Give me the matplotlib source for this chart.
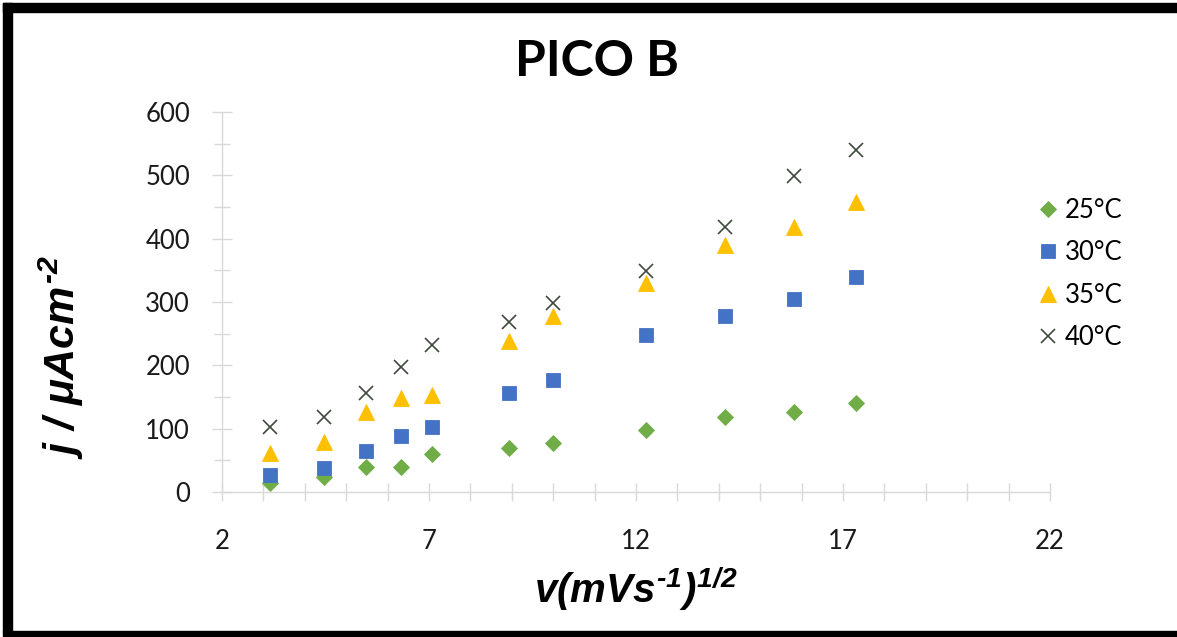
import matplotlib
matplotlib.use("Agg")
import matplotlib.pyplot as plt
from matplotlib.patches import Rectangle
from matplotlib.ticker import MultipleLocator

# datos: raiz de la velocidad de barrido vs densidad de corriente
x_raiz_v = [3.16, 4.47, 5.48, 6.32, 7.07, 8.94, 10.0, 12.25, 14.14, 15.81, 17.32]
j_25 = [14, 24, 40, 40, 60, 69, 78, 98, 119, 127, 141]
j_30 = [27, 38, 65, 88, 102, 157, 177, 248, 278, 304, 339]
j_35 = [61, 79, 127, 148, 153, 239, 278, 330, 390, 419, 458]
j_40 = [103, 119, 157, 197, 232, 269, 299, 349, 419, 499, 540]
etiquetas = ["25°C", "30°C", "35°C", "40°C"]
x_ticks = [2, 7, 12, 17, 22]
y_ticks = [0, 100, 200, 300, 400, 500, 600]

plt.rcParams["mathtext.fontset"] = "custom"
plt.rcParams["mathtext.rm"] = "Liberation Sans:bold:italic"
plt.rcParams["mathtext.it"] = "Liberation Sans:bold:italic"
plt.rcParams["mathtext.bf"] = "Liberation Sans:bold:italic"

W, H = 1177, 637
fig = plt.figure(figsize=(W / 100, H / 100), dpi=100)
fig.patch.set_facecolor("white")
ax = fig.add_axes([222 / W, 145 / H, 828 / W, 380 / H])

gris = "#D9D9D9"
series = [
    (j_25, "D", "#70AD47", 8.5, 0.6),
    (j_30, "s", "#4472C4", 10.5, 0.6),
    (j_35, "^", "#FFC000", 11.5, 0.6),
    (j_40, "x", "#3E4A3E", 10, 1.2),
]
for (valores, marcador, color, tam, ancho), etiqueta in zip(series, etiquetas):
    ax.plot(x_raiz_v, valores, linestyle="none", marker=marcador, color=color,
            markersize=tam, markeredgewidth=ancho, markeredgecolor=color,
            label=etiqueta, clip_on=False)

ax.set_xlim(2, 22)
ax.set_ylim(0, 600)
ax.set_xticks(x_ticks)
ax.set_yticks(y_ticks)
ax.xaxis.set_minor_locator(MultipleLocator(1))
ax.yaxis.set_minor_locator(MultipleLocator(50))
ax.spines[["top", "right"]].set_visible(False)
for s in ["left", "bottom"]:
    ax.spines[s].set_color(gris)
    ax.spines[s].set_linewidth(1.0)
ax.tick_params(axis="both", which="both", direction="inout", color=gris, width=1.0)
ax.tick_params(axis="x", which="major", length=13, pad=20)
ax.tick_params(axis="x", which="minor", length=13)
ax.tick_params(axis="y", which="major", length=14, pad=16)
ax.tick_params(axis="y", which="minor", length=12)
for lab in ax.get_xticklabels() + ax.get_yticklabels():
    lab.set_fontfamily("Lato")
    lab.set_fontsize(18.5)
    lab.set_color("#1a1a1a")

ax.set_xlabel(r"$v(mVs^{\text{-}1})^{1/2}$", fontsize=29)
ax.xaxis.set_label_coords(0.5, -0.19)
ax.set_ylabel(r"$j\ /\ \mu Acm^{\text{-}2}$", fontsize=31)
ax.yaxis.set_label_coords(-0.164, 0.355)

fig.text(597 / W, 1 - 62 / H, "PICO B", fontfamily="Lato", fontweight="bold",
         fontsize=36, ha="center", va="center")

fig.legend(loc="center left", bbox_to_anchor=(1024 / W, 1 - 274 / H), frameon=False,
           prop={"family": "Lato", "size": 18.5}, handlelength=0.9, handletextpad=0.2,
           labelspacing=0.68, borderpad=0)

# marco negro de la captura
negro = "black"
fig.add_artist(Rectangle((3 / W, 1 - 12 / H), 1 - 3 / W, 9 / H, transform=fig.transFigure, color=negro))
fig.add_artist(Rectangle((3 / W, 5 / H), 9 / W, 1 - 8 / H, transform=fig.transFigure, color=negro))
fig.add_artist(Rectangle((3 / W, 0), 1 - 3 / W, 6 / H, transform=fig.transFigure, color=negro))

plt.savefig("out.png", dpi=100)
plt.close()
